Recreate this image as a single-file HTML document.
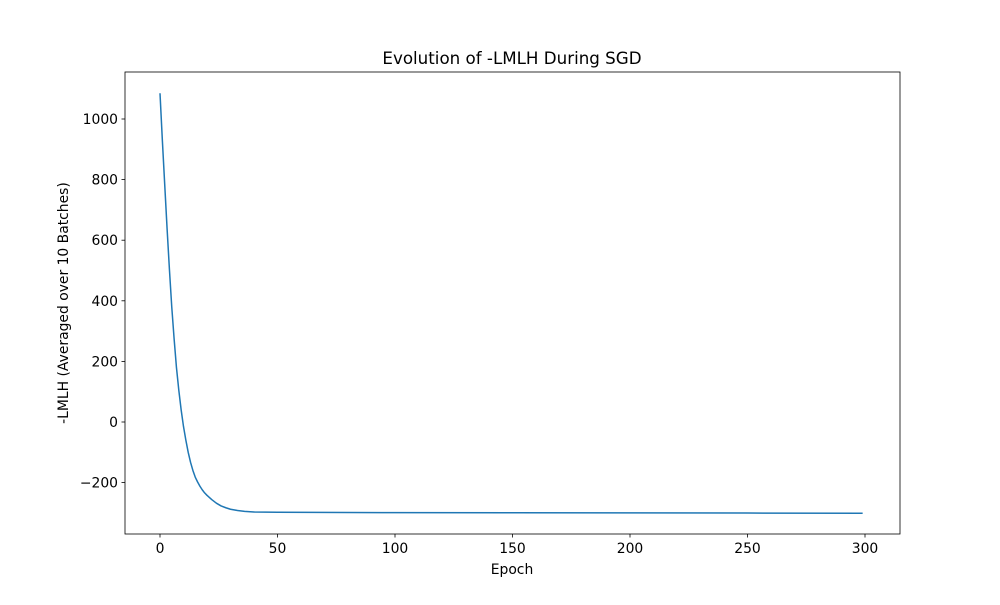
<!DOCTYPE html>
<html><head><meta charset="utf-8"><style>
body{margin:0;background:#fff}
svg text{font-family:"DejaVu Sans","Liberation Sans",sans-serif;fill:#000}
</style></head><body>
<svg width="1000" height="600" xmlns="http://www.w3.org/2000/svg">
<rect width="1000" height="600" fill="#fff"/>
<text x="512" y="64" font-size="16.7" text-anchor="middle">Evolution of -LMLH During SGD</text>
<g id="plot"></g>
<text x="512" y="574" font-size="13.9" text-anchor="middle">Epoch</text>
<text transform="translate(68,303) rotate(-90)" font-size="13.9" text-anchor="middle">-LMLH (Averaged over 10 Batches)</text>
</svg>
<script>
const epochs=[0,1,2,3,4,5,6,7,8,9,10,11,12,13,14,15,16,17,18,19,20,22,24,26,28,30,33,36,40,50,100,150,200,250,299];
const lmlh=[1085,930,785,640,505,380,275,180,105,40,-15,-60,-100,-133,-160,-182,-198,-212,-224,-234,-242,-256,-268,-277,-283,-288,-292,-295,-297,-298,-299,-299.5,-300,-300.5,-301];
const xTicks=[0,50,100,150,200,250,300];
const yTicks=[-200,0,200,400,600,800,1000];
const L=125,R=900,T=72,B=534;
const xs=v=>160+v*(865-160)/300;
const ys=v=>422-v*(422-119)/1000;
const NS="http://www.w3.org/2000/svg";
const g=document.getElementById('plot');
function mk(t,a){const e=document.createElementNS(NS,t);for(const k in a)e.setAttribute(k,a[k]);g.appendChild(e);return e;}
let d=epochs.map((e,i)=>(i?'L':'M')+xs(e).toFixed(2)+','+ys(lmlh[i]).toFixed(2)).join('');
const line=mk('path',{d:d,fill:'none',stroke:'#1f77b4','stroke-width':1.5,'stroke-linejoin':'round'});


const frame=mk('rect',{x:L,y:T,width:R-L,height:B-T,fill:'none',stroke:'#000','stroke-width':0.8});


xTicks.forEach(v=>{const x=xs(v);
 const tk=mk('line',{x1:x,x2:x,y1:B,y2:B+3.5,stroke:'#000','stroke-width':0.8});
 
 
 const t=mk('text',{x:x,y:B+19,'font-size':13.9,'text-anchor':'middle'});t.textContent=v;
 
 
});
yTicks.forEach(v=>{const y=ys(v);
 const tk=mk('line',{x1:L-3.5,x2:L,y1:y,y2:y,stroke:'#000','stroke-width':0.8});
 
 
 const t=mk('text',{x:L-7,y:y+5,'font-size':13.9,'text-anchor':'end'});t.textContent=v<0?'\u2212'+(-v):v;
 
 
});
</script>
</body></html>
